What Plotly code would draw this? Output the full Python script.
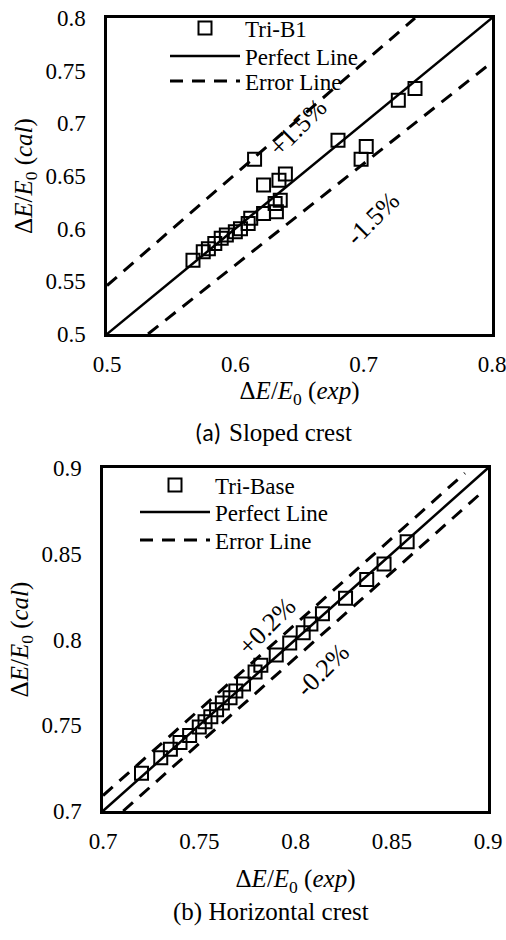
import plotly.graph_objects as go

# ---------------- data ----------------
# (a) Sloped crest : Tri-B1
tri_b1_exp = [0.567, 0.575, 0.579, 0.584, 0.589, 0.593, 0.600, 0.604, 0.610, 0.612,
              0.615, 0.622, 0.622, 0.631, 0.632, 0.635, 0.634, 0.639, 0.680, 0.698,
              0.702, 0.727, 0.740]
tri_b1_cal = [0.570, 0.578, 0.581, 0.586, 0.591, 0.594, 0.597, 0.600, 0.605, 0.610,
              0.666, 0.6145, 0.6415, 0.624, 0.616, 0.627, 0.646, 0.652, 0.684, 0.666,
              0.678, 0.722, 0.733]
perfect_a = [0.5, 0.8]
err_a_x = [0.5, 0.74, None, 0.532, 0.8]
err_a_y = [0.546, 0.8, None, 0.5, 0.758]
ticks_a_x = [0.5, 0.6, 0.7, 0.8]
ticks_a_y = [0.5, 0.55, 0.6, 0.65, 0.7, 0.75, 0.8]
labels_a = ["+1.5%", "-1.5%"]
labels_a_x = [0.649, 0.707]
labels_a_y = [0.6956, 0.610]

# (b) Horizontal crest : Tri-Base
tri_base_exp = [0.720, 0.730, 0.735, 0.740, 0.745, 0.750, 0.753, 0.756, 0.759, 0.762,
                0.766, 0.769, 0.773, 0.779, 0.782, 0.790, 0.797, 0.804, 0.808, 0.814,
                0.826, 0.837, 0.846, 0.858]
tri_base_cal = [0.722, 0.731, 0.736, 0.740, 0.744, 0.749, 0.752, 0.755, 0.759, 0.763,
                0.766, 0.770, 0.774, 0.781, 0.785, 0.791, 0.798, 0.804, 0.809, 0.815,
                0.824, 0.835, 0.844, 0.857]
perfect_b = [0.7, 0.9]
err_b_x = [0.70, 0.888, None, 0.7105, 0.897]
err_b_y = [0.709, 0.897, None, 0.70, 0.886]
ticks_b = [0.7, 0.75, 0.8, 0.85, 0.9]
labels_b = ["+0.2%", "-0.2%"]
labels_b_x = [0.7852, 0.8138]
labels_b_y = [0.8073, 0.7822]

SERIF = "Liberation Serif, Times New Roman, serif"
SANS = "Carlito, Open Sans, sans-serif"
FS = 23
W, H = 506, 940

fig = go.Figure()

def add_panel(xs, ys, name, perf, ex, ey, xa, ya, legs):
    fig.add_trace(go.Scatter(x=xs, y=ys, mode="markers", name=name,
                             marker=dict(symbol="square-open", size=13, color="black",
                                         line=dict(width=2, color="black")),
                             xaxis=xa, yaxis=ya, legend=legs[0]))
    fig.add_trace(go.Scatter(x=perf, y=perf, mode="lines", name="Perfect Line",
                             line=dict(color="black", width=2.5),
                             xaxis=xa, yaxis=ya, legend=legs[1]))
    fig.add_trace(go.Scatter(x=ex, y=ey, mode="lines", name="Error Line",
                             line=dict(color="black", width=3, dash="13px,9px"),
                             xaxis=xa, yaxis=ya, legend=legs[2]))

add_panel(tri_b1_exp, tri_b1_cal, "Tri-B1", perfect_a, err_a_x, err_a_y, "x", "y",
          ["legend", "legend2", "legend3"])
add_panel(tri_base_exp, tri_base_cal, "Tri-Base", perfect_b, err_b_x, err_b_y, "x2", "y2",
          ["legend4", "legend5", "legend6"])

def axis_common(tl):
    return dict(showgrid=False, zeroline=False, showline=True, mirror=True,
                linecolor="black", linewidth=2.5, ticks="outside", automargin=False,
                tickcolor="rgba(0,0,0,0)", ticklen=tl, ticklabeloverflow="allow",
                tickfont=dict(family=SERIF, size=FS, color="black"))

xt = "Δ<i>E</i>/<i>E</i><sub>0</sub> (<i>exp</i>)"
yt = "Δ<i>E</i>/<i>E</i><sub>0</sub> (<i>cal</i>)"
tfont = dict(family=SERIF, size=25, color="black")

def leg(xpx, ypx):
    return dict(x=xpx / W, y=1 - ypx / H, xanchor="left", yanchor="middle",
                bgcolor="rgba(0,0,0,0)", itemwidth=70, tracegroupgap=0,
                font=dict(family=SERIF, size=FS, color="black"))

fig.update_layout(
    width=W, height=H, margin=dict(l=0, r=0, t=0, b=0, autoexpand=False),
    paper_bgcolor="white", plot_bgcolor="white", showlegend=True,
    xaxis=dict(**axis_common(8), domain=[107 / W, 492 / W], range=[0.5, 0.8],
               tickvals=ticks_a_x, ticktext=[f"{v:g}" for v in ticks_a_x],
               title=dict(text=xt, font=tfont, standoff=6), anchor="y"),
    yaxis=dict(**axis_common(14), domain=[1 - 334 / H, 1 - 18 / H], range=[0.5, 0.8],
               tickvals=ticks_a_y, ticktext=[f"{v:g}" for v in ticks_a_y],
               title=dict(text=yt, font=tfont, standoff=6), anchor="x"),
    xaxis2=dict(**axis_common(8), domain=[103 / W, 488 / W], range=[0.7, 0.9],
                tickvals=ticks_b, ticktext=[f"{v:g}" for v in ticks_b],
                title=dict(text=xt, font=tfont, standoff=17), anchor="y2"),
    yaxis2=dict(**axis_common(14), domain=[1 - 811 / H, 1 - 468 / H], range=[0.7, 0.9],
                tickvals=ticks_b, ticktext=[f"{v:g}" for v in ticks_b],
                title=dict(text=yt, font=tfont, standoff=6), anchor="x2"),
    legend=leg(165, 28), legend2=leg(165, 56), legend3=leg(165, 81),
    legend4=leg(135, 485), legend5=leg(135, 512), legend6=leg(135, 540),
)

for t, x, y in zip(labels_a, labels_a_x, labels_a_y):
    fig.add_annotation(x=x, y=y, xref="x", yref="y", text=t, showarrow=False,
                       textangle=-45, font=dict(family=SERIF, size=26, color="black"))
for t, x, y in zip(labels_b, labels_b_x, labels_b_y):
    fig.add_annotation(x=x, y=y, xref="x2", yref="y2", text=t, showarrow=False,
                       textangle=-45, font=dict(family=SERIF, size=26, color="black"))

# panel captions
fig.add_annotation(x=223 / W, y=1 - 432 / H, xref="paper", yref="paper", showarrow=False,
                   xanchor="right", text="(a)",
                   font=dict(family=SANS, size=24, color="black"))
fig.add_annotation(x=227 / W, y=1 - 432 / H, xref="paper", yref="paper", showarrow=False,
                   xanchor="left", text="Sloped crest",
                   font=dict(family=SERIF, size=25, color="black"))
fig.add_annotation(x=271 / W, y=1 - 928 / H, xref="paper", yref="paper", showarrow=False,
                   text="(b) Horizontal crest",
                   font=dict(family=SERIF, size=25, color="black"))

fig.write_html("out.html", config={"displayModeBar": False},
               post_script="document.body.style.margin='0';document.body.style.overflow='hidden';")
